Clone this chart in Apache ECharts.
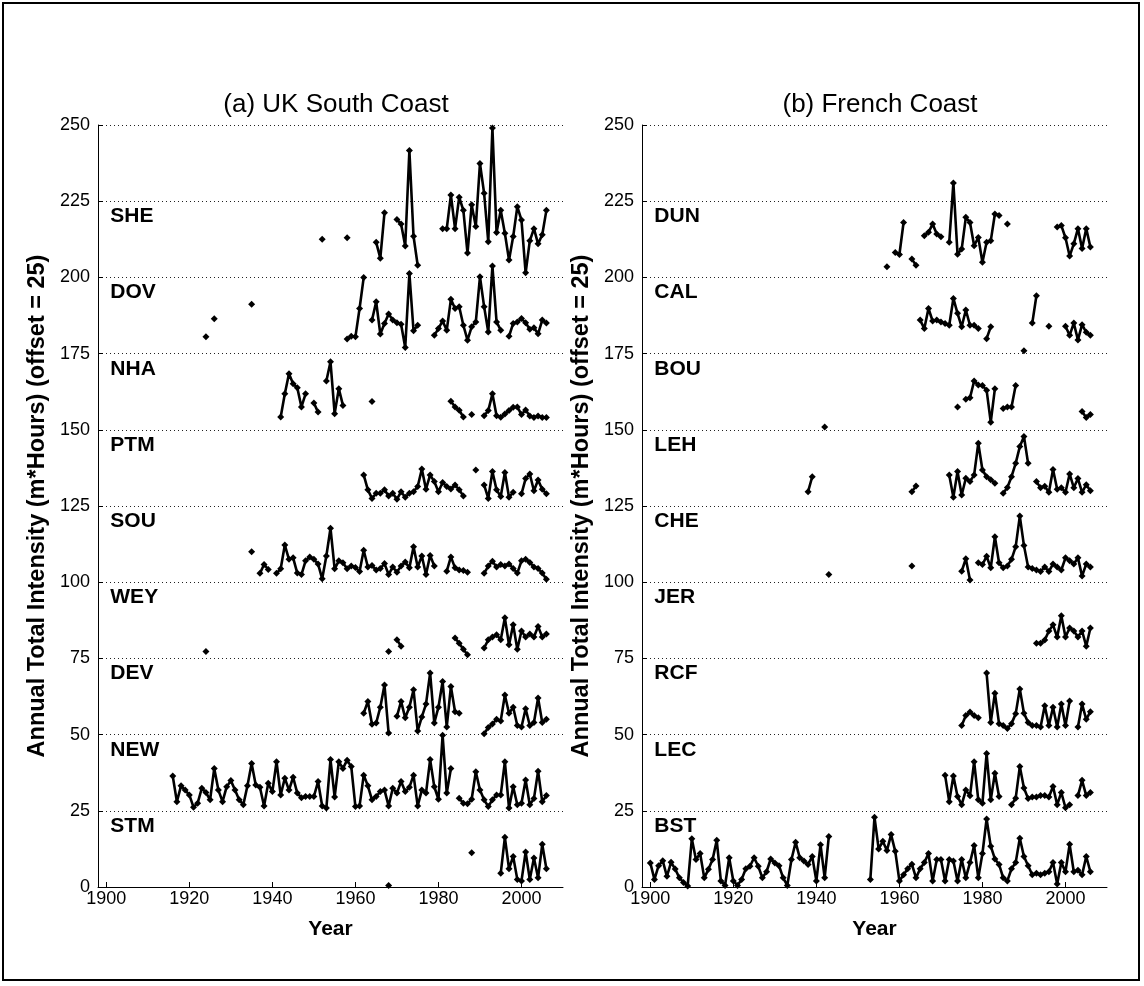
<!DOCTYPE html>
<html>
<head>
<meta charset="utf-8">
<script src="https://cdn.jsdelivr.net/npm/echarts@6/dist/echarts.min.js"></script>
<style>
  html, body { margin: 0; padding: 0; background: #fff; }
  #chart { width: 1144px; height: 986px; }
</style>
</head>
<body>
<div id="chart"></div>
<script>
// Tick positions on the year axis
const yearTicks = [1900, 1920, 1940, 1960, 1980, 2000];

// Station codes, top to bottom; each station is shifted up by 25
const ukStations = ['SHE', 'DOV', 'NHA', 'PTM', 'SOU', 'WEY', 'DEV', 'NEW', 'STM'];
const frStations = ['DUN', 'CAL', 'BOU', 'LEH', 'CHE', 'JER', 'RCF', 'LEC', 'BST'];
const stationOffset = 25;

// Each run: [first year, value, value, ...] for consecutive years; gaps between runs
// ---- UK South Coast ----
const SHE = [
  [1952, 212.5],
  [1958, 213],
  [1965, 211.5, 206.3, 221.2],
  [1970, 219, 217.5, 210.3, 241.6, 213.5, 204],
  [1981, 216, 216, 227, 216, 226.3, 222, 208, 223.8, 216.7, 237.4, 227.6, 211.7, 249, 214.7, 222, 214.5, 205.7, 213.4, 223.2, 218.8, 201.5, 212, 216, 211, 214, 222]
];
const DOV = [
  [1924, 180.5],
  [1926, 186.4],
  [1935, 191.2],
  [1958, 179.8, 180.7, 180.5, 189.8, 200],
  [1964, 186, 192, 181.4, 184.9, 188, 186, 185.1, 184.6, 177, 201.3, 182.5, 184.3],
  [1979, 181, 183.2, 185.7, 182.7, 192.8, 189.8, 190.4, 184.3, 179.4, 183.8, 185.4, 200.2, 190.4, 182.1, 203.7, 185.4, 182.7],
  [1997, 180.7, 184.9, 185.4, 186.5, 185.1, 183, 183.5, 181.5, 186, 185]
];
const NHA = [
  [1942, 154.2, 161.8, 168.4, 165.1, 163.8, 157.5, 161.8],
  [1950, 158.8, 155.8],
  [1953, 166, 172.3, 155.3, 163.5, 158],
  [1964, 159.3],
  [1983, 159.4, 157.5, 156.4, 154.2],
  [1988, 155],
  [1991, 154.6, 156.3, 161.8, 154.6, 154.1, 155.2, 156.3, 157.4, 157.5, 155, 156.5, 154.5, 154, 154.5, 154, 154]
];
const PTM = [
  [1962, 135.2, 130.3, 127.5, 129.2, 129.2, 130.3, 128.3, 129.2, 127.2, 129.7, 127.9, 129.2, 129.7, 131.4, 137.1, 130.5, 135.2, 133, 129.7, 132.7, 131.4, 130.6, 131.9, 130.3, 128.3],
  [1989, 136.8],
  [1991, 131.9, 127.5, 136.3, 130.3, 128.1, 136, 127.9, 129.5],
  [2000, 129, 134, 135.5, 130, 133.5, 130.5, 129]
];
const SOU = [
  [1935, 110],
  [1937, 102.9, 105.8, 104.2],
  [1941, 102.9, 104.4, 112.2, 107.5, 108, 103, 102.5, 107, 108.3, 107.5, 106, 101.1, 108.6, 117.7, 104.4, 107, 106.4, 104.4, 105.3, 104.8, 103.5, 110.5, 105, 105.5, 104, 104.5, 106.1, 102.5, 105, 103.3, 105.3, 106.6, 104.7, 111.6, 105, 108.6, 102.5, 108.8, 105.3],
  [1982, 103.6, 108.3, 104.7, 104, 103.8, 103.3],
  [1991, 102.9, 105.3, 106.9, 105, 105.8, 105.3, 106, 104.5, 103, 107, 107.5, 106.5, 105, 104.5, 103, 101]
];
const WEY = [
  [1924, 77.3],
  [1968, 77.3],
  [1970, 81.1, 79],
  [1984, 81.7, 80, 78, 76.2],
  [1991, 78.4, 81.1, 82, 82.8, 81.1, 88.3, 79.5, 86, 78, 84, 82, 83, 82, 85.5, 82, 83]
];
const DEV = [
  [1962, 57, 60.9, 53.4, 53.8, 59, 66.3, 50.5],
  [1970, 56, 60.9, 55.5, 59, 64.7, 51.2, 55.8, 60, 70.2, 53.8, 59, 67.4, 52.5, 65.8, 57.5, 57],
  [1991, 50.3, 52.3, 53.5, 55, 54.5, 63, 57, 59, 53, 52.5, 58.5, 53, 54, 62, 54, 55]
];
const NEW = [
  [1916, 36.4, 28, 33.2, 31.8, 30.2, 26.2, 27.5, 32.4, 31, 28.6,
         38.9, 31.8, 28, 32.9, 34.9, 31.8, 28.6, 27, 33.2, 40.5,
         33.5, 32.7, 26.6, 34, 31.3, 41.1, 30.2, 35.7, 31.8, 36,
         30.8, 29.3, 29.7, 29.7, 29.7, 34.6, 26.6, 25.9, 41.8, 29.5,
         41.1, 38.9, 41.6, 39.5, 26.4, 26.6, 36.7, 33.2, 28.6, 29.7,
         31.3, 31.8, 26.6, 32.4, 30.8, 34.6, 31.3, 32.7, 36.7, 26.6,
         31.8, 30.8, 41.8, 32.9, 28.8, 49.8, 30.8, 38.9],
  [1985, 29.1, 27.5, 27.3, 28.8, 37.8, 31.8, 28.6, 26.4, 28.6, 30.2, 30.2, 41.1, 25.9, 32.9, 27, 27.5, 35.1, 27, 29, 38, 28, 30]
];
const STM = [
  [1968, 0.5],
  [1988, 11.2],
  [1995, 4.5, 16.3, 6, 10, 2.5, 2, 11.5, 2.5, 9.5, 3, 14, 6]
];

// ---- French Coast ----
const DUN = [
  [1957, 203.5],
  [1959, 208.2, 207.5, 218],
  [1963, 206, 204],
  [1966, 213.7, 214.8, 217.5, 214.2, 213.3],
  [1972, 211.5, 231, 207.6, 209.3, 219.7, 218, 210.4, 213.1, 205, 211.5, 212, 220.8, 220.3],
  [1986, 217.5],
  [1998, 216.5, 217, 213, 207, 211, 216, 209.5, 216, 210]
];
const CAL = [
  [1965, 186, 183.2, 189.8, 185.7, 186, 185.4, 184.9, 184.3, 193.1, 188.2, 183.8, 189.3, 184.3, 184.3, 183.2],
  [1981, 179.9, 183.8],
  [1990, 175.9],
  [1992, 185, 194],
  [1996, 184],
  [2000, 184, 181, 185, 179.5, 184.5, 182, 181]
];
const BOU = [
  [1974, 157.5],
  [1976, 160, 160.5, 166, 164.7, 164.5, 163, 152.5, 163.5],
  [1985, 157, 157.5, 157.5, 164.5],
  [2004, 156, 154, 155]
];
const LEH = [
  [1938, 129.7, 134.6],
  [1942, 150.9],
  [1963, 129.7, 131.6],
  [1972, 135.2, 127.9, 136.3, 128.6, 134.1, 133, 135.2, 145.6, 136.8, 134.6, 133.6, 132.5],
  [1985, 129.2, 131.1, 134.6, 139, 144.5, 147.8, 139],
  [1993, 133, 131, 131.5, 129.5, 137, 130.5, 131, 129.5, 135.5, 131, 134, 129.5, 132, 130]
];
const CHE = [
  [1943, 102.5],
  [1963, 105.3],
  [1975, 103.6, 107.7, 100.7],
  [1979, 106.4, 105.8, 108.5, 104.7, 114.9, 106.4, 104.7, 105.3, 107.5, 111.6, 121.7, 112, 105, 104.5, 104, 103.5, 105, 103.5, 106, 105, 104, 108, 107, 106, 108, 102, 106, 105]
];
const JER = [
  [1993, 80, 80, 81, 84, 86, 82, 89, 82, 85, 84, 82, 84, 79, 85]
];
const RCF = [
  [1975, 53, 56.3, 57.4, 56.3, 55.5],
  [1981, 70.2, 54, 63.6, 53.6, 53, 52, 53.6, 56.8, 65, 57, 54, 53, 53, 52.5, 59.5, 53, 59, 52.5, 60, 53, 61],
  [2003, 52.5, 60, 55, 57.5]
];
const LEC = [
  [1971, 36.7, 28, 36.4, 29.7, 27, 31.8, 29.9, 41.1, 28.6, 27.5, 43.8, 28.6, 37.3, 29.7],
  [1987, 27, 29.1, 39.5, 32.5, 29, 29.5, 29.5, 30, 30, 29.5, 33, 27, 31, 26, 27],
  [2003, 30, 35, 30, 31]
];
const BST = [
  [1900, 7.9, 2.5, 7, 8.6, 3.5, 8.1, 5.9, 3, 1.5, 0.3,
         15.8, 9, 11, 3, 5.8, 9, 15.3, 2, 0.5, 9.6,
         2, 0.5, 2.5, 6, 6.8, 9.6, 6.8, 3, 5, 9.2,
         7.9, 7, 3, 0.5, 9, 14.7, 9.6, 8.5, 7.4, 10,
         2, 13.9, 3, 16.6],
  [1953, 2.5, 22.9, 12.5, 15, 12, 17.2, 11.7, 2, 4, 6,
         7.5, 3, 6, 8, 11, 2, 9, 9, 2, 9,
         8.5, 2, 9, 3, 8, 13.6, 3, 11, 22.3, 13.4,
         9.2, 7.4, 3, 2, 6, 8, 16, 10, 7, 4,
         4.5, 4, 4.5, 5, 8, 1, 8, 5, 14, 5,
         5.5, 4, 10, 5]
];

const ukRuns = [SHE, DOV, NHA, PTM, SOU, WEY, DEV, NEW, STM];
const frRuns = [DUN, CAL, BOU, LEH, CHE, JER, RCF, LEC, BST];

// Turn runs into [year, value] pairs with a break marker between runs
function runsToData(runs) {
  const out = [];
  runs.forEach((run, r) => {
    const start = run[0];
    if (r > 0) out.push([start - 1, '-']);
    for (let i = 1; i < run.length; i++) out.push([start + i - 1, run[i]]);
  });
  return out;
}

const FONT = 'Liberation Sans, Arial, sans-serif';
const TICK_FONT = 'Liberation Sans Narrow, Liberation Sans, Arial, sans-serif';
const INK = '#000';

function xAxisFor(idx) {
  return {
    type: 'value', gridIndex: idx, min: 1898, max: 2010,
    axisLine: { show: true, onZero: false, lineStyle: { color: INK, width: 1 } },
    axisTick: { show: true, inside: true, length: 5, customValues: yearTicks, lineStyle: { color: INK } },
    axisLabel: { show: true, customValues: yearTicks, formatter: v => String(v), margin: 3,
                 fontFamily: TICK_FONT, fontSize: 18, color: INK },
    splitLine: { show: false },
    name: 'Year', nameLocation: 'middle', nameGap: 32,
    nameTextStyle: { fontFamily: FONT, fontWeight: 'bold', fontSize: 21, color: INK }
  };
}
function yAxisFor(idx) {
  return {
    type: 'value', gridIndex: idx, min: 0, max: 250, interval: 25,
    axisLine: { show: true, onZero: false, lineStyle: { color: INK, width: 1 } },
    axisTick: { show: true, inside: true, length: 5, lineStyle: { color: INK } },
    axisLabel: { show: true, margin: 8, fontFamily: TICK_FONT, fontSize: 18, color: INK },
    splitLine: { show: true, lineStyle: { color: '#222', width: 1, type: [1, 3] } },
    name: 'Annual Total Intensity (m*Hours) (offset = 25)', nameLocation: 'middle', nameGap: 48,
    nameTextStyle: { fontFamily: FONT, fontWeight: 'bold', fontSize: 23.5, color: INK }
  };
}

function stationSeries(runs, idx) {
  return runs.map(r => ({
    type: 'line', xAxisIndex: idx, yAxisIndex: idx,
    data: runsToData(r),
    connectNulls: false,
    showSymbol: true, showAllSymbol: true,
    symbol: 'diamond', symbolSize: 7,
    itemStyle: { color: INK, opacity: 1 },
    lineStyle: { color: INK, width: 2.6 },
    silent: true, z: 3
  }));
}

function labelSeries(names, idx) {
  return {
    type: 'scatter', xAxisIndex: idx, yAxisIndex: idx,
    symbolSize: 0, silent: true, z: 4,
    itemStyle: { opacity: 1 },
    data: names.map((n, i) => ({
      value: [1900, 250 - stationOffset * (i + 1) - 5],
      name: n
    })),
    label: {
      show: true, position: 'right', distance: 4,
      formatter: p => p.name,
      fontFamily: FONT, fontWeight: 'bold', fontSize: 21, color: INK
    }
  };
}

const chart = echarts.init(document.getElementById('chart'), null, { renderer: 'canvas' });
chart.setOption({
  animation: false,
  backgroundColor: '#fff',
  title: [
    { text: '(a) UK South Coast', left: 331, top: 87, textAlign: 'center',
      textStyle: { fontFamily: FONT, fontWeight: 'normal', fontSize: 26, color: INK } },
    { text: '(b) French Coast', left: 875, top: 87, textAlign: 'center',
      textStyle: { fontFamily: FONT, fontWeight: 'normal', fontSize: 26, color: INK } }
  ],
  grid: [
    { left: 98, top: 125, width: 465, height: 762 },
    { left: 642, top: 125, width: 465, height: 762 }
  ],
  xAxis: [xAxisFor(0), xAxisFor(1)],
  yAxis: [yAxisFor(0), yAxisFor(1)],
  series: [
    ...stationSeries(ukRuns, 0),
    ...stationSeries(frRuns, 1),
    labelSeries(ukStations, 0),
    labelSeries(frStations, 1)
  ],
  graphic: [{
    type: 'rect', silent: true,
    shape: { x: 3, y: 3, width: 1136, height: 977 },
    style: { fill: 'none', stroke: INK, lineWidth: 2 }
  }]
});
</script>
</body>
</html>
